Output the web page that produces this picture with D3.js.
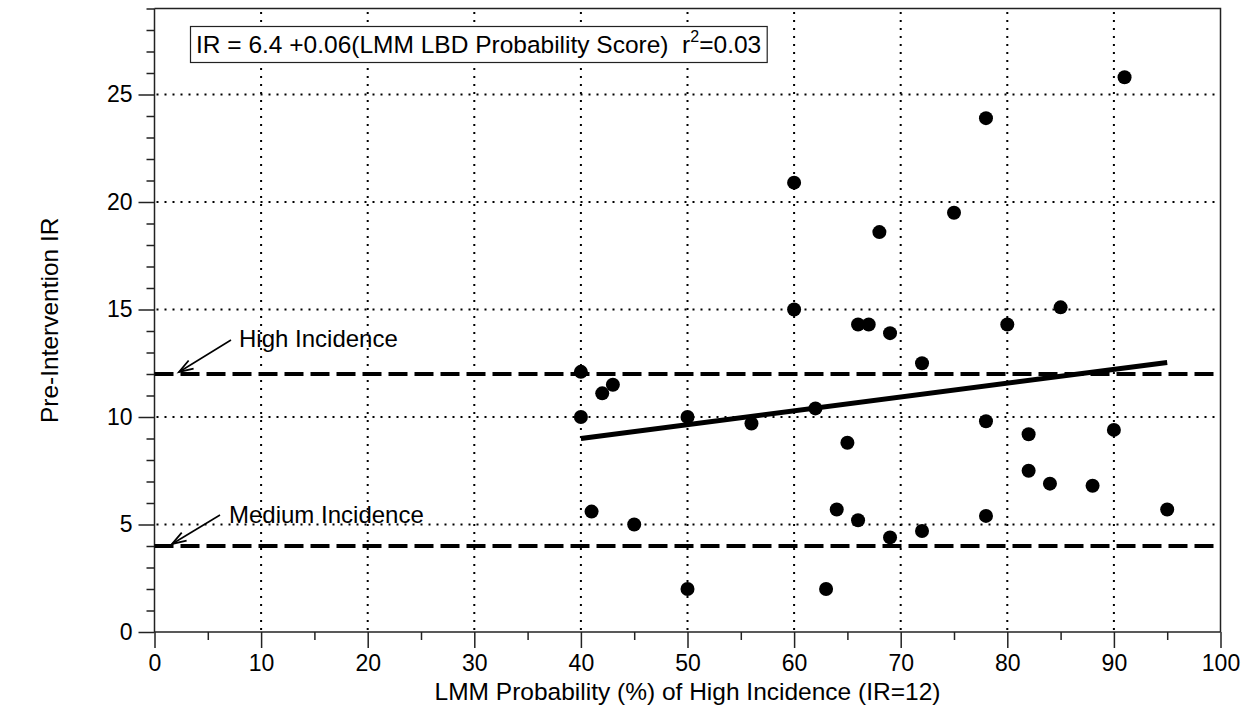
<!DOCTYPE html>
<html>
<head>
<meta charset="utf-8">
<script src="https://cdn.jsdelivr.net/npm/d3@7"></script>
<style>
  html, body { margin: 0; padding: 0; background: #fff; }
  svg { display: block; font-family: Arial, "Liberation Sans", Helvetica, sans-serif; }
</style>
</head>
<body>
<svg id="chart" width="1250" height="715"></svg>
<script>
// LMM probability (%) of high incidence for each site
const probability = [40, 40, 41, 42, 43, 45, 50, 50, 56, 60, 60, 62, 63, 64, 65, 66, 66, 67, 68,
                     69, 69, 72, 72, 75, 78, 78, 78, 80, 82, 82, 84, 85, 88, 90, 91, 95];
// Pre-intervention incidence rate for each site
const preIR = [12.1, 10.0, 5.6, 11.1, 11.5, 5.0, 10.0, 2.0, 9.7, 20.9, 15.0, 10.4, 2.0, 5.7, 8.8, 14.3, 5.2, 14.3, 18.6,
               13.9, 4.4, 12.5, 4.7, 19.5, 23.9, 9.8, 5.4, 14.3, 9.2, 7.5, 6.9, 15.1, 6.8, 9.4, 25.8, 5.7];

// Least-squares fit
const fitIntercept = 6.43;
const fitSlope = 0.0643;
const fitR2 = 0.03;
const fitRange = [40, 95];

// Reference incidence levels
const thresholds = [
  { label: "High Incidence", value: 12 },
  { label: "Medium Incidence", value: 4 }
];

const xTicks = [0, 10, 20, 30, 40, 50, 60, 70, 80, 90, 100];
const yTicks = [0, 5, 10, 15, 20, 25];

const svg = d3.select("#chart");
const plotLeft = 154.5, plotRight = 1220.5, plotTop = 8.5, plotBottom = 632;
const labelSize = 24.5, tickSize = 23;

const x = d3.scaleLinear().domain([0, 100]).range([plotLeft, plotRight]);
const y = d3.scaleLinear().domain([0, 29]).range([plotBottom, plotTop]);

const ink = "#000";
const axisInk = "#222";

// Dotted grid
const grid = svg.append("g").attr("stroke", ink).attr("stroke-width", 2)
  .attr("stroke-dasharray", "2,6");
grid.selectAll("line.vx").data(xTicks.filter(t => t > 0 && t < 100)).join("line")
  .attr("class", "vx")
  .attr("x1", d => x(d)).attr("x2", d => x(d))
  .attr("y1", plotBottom - 2).attr("y2", plotTop + 2);
grid.selectAll("line.hy").data(yTicks.filter(t => t > 0)).join("line")
  .attr("class", "hy")
  .attr("y1", d => y(d)).attr("y2", d => y(d))
  .attr("x1", plotLeft + 2).attr("x2", plotRight - 2);

// Frame (top and right)
svg.append("path")
  .attr("d", `M${plotLeft},${plotTop}H${plotRight}V${plotBottom}`)
  .attr("fill", "none").attr("stroke", axisInk).attr("stroke-width", 1.5);

// Axes with major and minor ticks
const xAxisMinor = d3.axisBottom(x).tickValues(d3.range(5, 100, 10)).tickSize(8).tickFormat("");
const xAxisMajor = d3.axisBottom(x).tickValues(xTicks).tickSize(16).tickPadding(7);
const yAxisMinor = d3.axisLeft(y).tickValues(d3.range(0, 30).filter(v => v % 5 !== 0)).tickSize(8).tickFormat("");
const yAxisMajor = d3.axisLeft(y).tickValues(yTicks).tickSize(16).tickPadding(6);

function styleAxis(g) {
  g.select(".domain").remove();
  g.selectAll("line").attr("stroke", axisInk).attr("stroke-width", 1.5);
  g.selectAll("text").attr("fill", ink).attr("font-size", tickSize)
    .attr("font-family", "Arial, 'Liberation Sans', sans-serif");
}

svg.append("g").attr("transform", `translate(0,${plotBottom})`).call(xAxisMinor).call(styleAxis);
svg.append("g").attr("transform", `translate(0,${plotBottom})`).call(xAxisMajor).call(styleAxis);
svg.append("g").attr("transform", `translate(${plotLeft},0)`).call(yAxisMinor).call(styleAxis);
svg.append("g").attr("transform", `translate(${plotLeft},0)`).call(yAxisMajor).call(styleAxis);

// Axis lines
svg.append("line").attr("x1", plotLeft).attr("x2", plotRight).attr("y1", plotBottom).attr("y2", plotBottom)
  .attr("stroke", axisInk).attr("stroke-width", 1.5);
svg.append("line").attr("x1", plotLeft).attr("x2", plotLeft).attr("y1", plotTop).attr("y2", plotBottom)
  .attr("stroke", axisInk).attr("stroke-width", 1.5);

// Dashed threshold lines
svg.append("g").selectAll("line").data(thresholds).join("line")
  .attr("x1", plotLeft).attr("x2", plotRight)
  .attr("y1", d => y(d.value)).attr("y2", d => y(d.value))
  .attr("stroke", ink).attr("stroke-width", 4).attr("stroke-dasharray", "19,7");

// Threshold annotations with arrows (tip, tail and label offsets in px)
const arrowGeom = [
  { tipX: 179, tail: [52, -32], label: [60, -25] },
  { tipX: 172, tail: [48, -29], label: [57, -21] }
];
thresholds.forEach((t, i) => {
  const g = arrowGeom[i];
  const tipX = g.tipX, tipY = y(t.value) - 2;
  const startX = tipX + g.tail[0], startY = tipY + g.tail[1];
  svg.append("line").attr("x1", startX).attr("y1", startY).attr("x2", tipX).attr("y2", tipY)
    .attr("stroke", ink).attr("stroke-width", 1.6);
  const ang = Math.atan2(startY - tipY, startX - tipX);
  const headLen = 15, spread = 0.32;
  const p1 = [tipX + headLen * Math.cos(ang + spread), tipY + headLen * Math.sin(ang + spread)];
  const p2 = [tipX + headLen * Math.cos(ang - spread), tipY + headLen * Math.sin(ang - spread)];
  svg.append("path")
    .attr("d", `M${p1[0]},${p1[1]}L${tipX},${tipY}L${p2[0]},${p2[1]}`)
    .attr("fill", "none").attr("stroke", ink).attr("stroke-width", 1.8);
  svg.append("text")
    .attr("x", tipX + g.label[0]).attr("y", tipY + g.label[1])
    .attr("font-size", 24).attr("fill", ink)
    .text(t.label);
});

// Regression line
svg.append("line")
  .attr("x1", x(fitRange[0])).attr("y1", y(fitIntercept + fitSlope * fitRange[0]))
  .attr("x2", x(fitRange[1])).attr("y2", y(fitIntercept + fitSlope * fitRange[1]))
  .attr("stroke", ink).attr("stroke-width", 5);

// Observations
svg.append("g").selectAll("circle").data(probability).join("circle")
  .attr("cx", d => x(d)).attr("cy", (d, i) => y(preIR[i]))
  .attr("r", 7).attr("fill", ink);

// Equation box
const eqBox = svg.append("rect");
const eq = svg.append("text").attr("x", 196).attr("y", 53).attr("font-size", labelSize)
  .attr("fill", ink).style("white-space", "pre");
eq.append("tspan").text(`IR = ${fitIntercept.toFixed(1)} +${fitSlope.toFixed(2)}(LMM LBD Probability Score)  r`);
eq.append("tspan").attr("font-size", 16).attr("dy", -11).text("2");
eq.append("tspan").attr("dy", 11).text(`=${fitR2.toFixed(2)}`);
const bb = eq.node().getBBox();
eqBox
  .attr("x", 190.5).attr("y", 26.5)
  .attr("width", bb.x + bb.width + 6 - 190.5).attr("height", 36)
  .attr("fill", "#fff").attr("stroke", axisInk).attr("stroke-width", 1.2);

// Axis titles
svg.append("text")
  .attr("x", (plotLeft + plotRight) / 2).attr("y", 700)
  .attr("text-anchor", "middle").attr("font-size", labelSize).attr("fill", ink)
  .text("LMM Probability (%) of High Incidence (IR=12)");
svg.append("text")
  .attr("transform", `translate(58,${(plotTop + plotBottom) / 2}) rotate(-90)`)
  .attr("text-anchor", "middle").attr("font-size", labelSize).attr("fill", ink)
  .text("Pre-Intervention IR");
</script>
</body>
</html>
